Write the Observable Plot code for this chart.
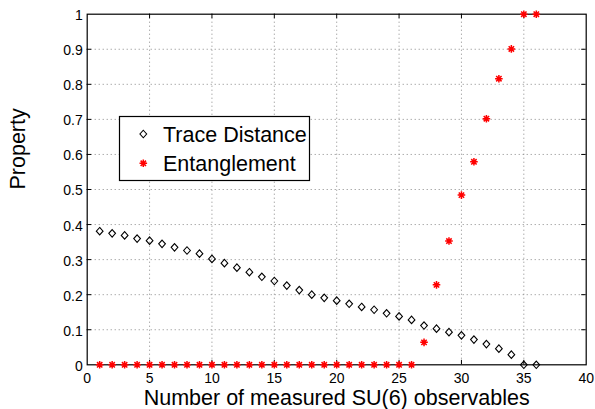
<!DOCTYPE html>
<html><head><meta charset="utf-8">
<script src="https://cdn.jsdelivr.net/npm/d3@7"></script>
<script src="https://cdn.jsdelivr.net/npm/@observablehq/plot@0.6"></script>
<style>
body{margin:0;background:#fff}
#chart{width:595px;height:409px}
</style>
</head><body><div id="chart"></div>
<script>
const observables = [1,2,3,4,5,6,7,8,9,10,11,12,13,14,15,16,17,18,19,20,21,22,23,24,25,26,27,28,29,30,31,32,33,34,35,36];
const traceDistance = [0.381,0.375,0.369,0.360,0.354,0.345,0.335,0.326,0.317,0.302,0.290,0.277,0.264,0.251,0.239,0.226,0.213,0.200,0.191,0.183,0.174,0.165,0.157,0.147,0.138,0.128,0.112,0.103,0.093,0.084,0.072,0.059,0.046,0.029,0,0];
const entanglement = [0,0,0,0,0,0,0,0,0,0,0,0,0,0,0,0,0,0,0,0,0,0,0,0,0,0,0.064,0.228,0.353,0.484,0.579,0.702,0.816,0.901,1,1];
const xTicks = [0,5,10,15,20,25,30,35,40];
const yTicks = [0,0.1,0.2,0.3,0.4,0.5,0.6,0.7,0.8,0.9,1];
const yTickLabels = ["0","0.1","0.2","0.3","0.4","0.5","0.6","0.7","0.8","0.9","1"];
const seriesNames = ["Trace Distance","Entanglement"];
const xLabel = "Number of measured SU(6) observables";
const yLabel = "Property";

const rows = observables.map((x, i) => ({x, td: traceDistance[i], ent: entanglement[i]}));

const FONT = "'Liberation Sans', Arial, Helvetica, sans-serif";

const diamondSym = {draw(ctx, size) {
  const r = Math.sqrt(size / Math.PI);
  const w = r * 1.12, h = r * 1.25;
  ctx.moveTo(0, -h); ctx.lineTo(w, 0); ctx.lineTo(0, h); ctx.lineTo(-w, 0); ctx.closePath();
}};
const starSym = {draw(ctx, size) {
  const r = Math.sqrt(size / Math.PI);
  const d = r * 0.7071;
  ctx.moveTo(-r, 0); ctx.lineTo(r, 0);
  ctx.moveTo(0, -r); ctx.lineTo(0, r);
  ctx.moveTo(-d, -d); ctx.lineTo(d, d);
  ctx.moveTo(-d, d); ctx.lineTo(d, -d);
}};

const inner = xTicks.slice(1, -1);
const innerY = yTicks.slice(1, -1);
const tickLenY = 0.0128, tickLenX = 0.36;

const plot = Plot.plot({
  width: 595, height: 409,
  marginLeft: 86.7, marginRight: 9.3, marginTop: 13.7, marginBottom: 44.7,
  style: {fontFamily: FONT, background: "white", color: "black", overflow: "visible"},
  x: {domain: [0, 40]},
  y: {domain: [0, 1]},
  marks: [
    Plot.gridX(inner, {stroke: "#888", strokeOpacity: 1, strokeDasharray: "1,3"}),
    Plot.gridY(innerY, {stroke: "#888", strokeOpacity: 1, strokeDasharray: "1,3"}),
    Plot.ruleX(inner, {x: d => d, y1: 0, y2: tickLenY, stroke: "black"}),
    Plot.ruleX(inner, {x: d => d, y1: 1 - tickLenY, y2: 1, stroke: "black"}),
    Plot.ruleY(innerY, {y: d => d, x1: 0, x2: tickLenX, stroke: "black"}),
    Plot.ruleY(innerY, {y: d => d, x1: 40 - tickLenX, x2: 40, stroke: "black"}),
    Plot.frame({stroke: "black", strokeWidth: 1.2}),
    Plot.axisX(xTicks, {anchor: "bottom", tickSize: 0, tickPadding: 8, fontSize: 14, tickFormat: d => String(d), label: null}),
    Plot.axisY(yTicks, {anchor: "left", tickSize: 0, tickPadding: 4.5, fontSize: 14, dy: 1.5, tickFormat: d => yTickLabels[yTicks.indexOf(d)], label: null}),
    Plot.text([xLabel], {frameAnchor: "bottom", lineAnchor: "bottom", dy: 39.7, fontSize: 21.5, text: d => d, fill: "black"}),
    Plot.text([yLabel], {frameAnchor: "left", lineAnchor: "bottom", rotate: -90, dx: -61.7, fontSize: 21.5, text: d => d, fill: "black"}),
    Plot.dot(rows, {x: "x", y: "td", symbol: diamondSym, r: 3, stroke: "black", fill: "none", strokeWidth: 1.1}),
    Plot.dot(rows, {x: "x", y: "ent", symbol: starSym, r: 3.8, stroke: "#ff0000", fill: "none", strokeWidth: 1.5})
  ]
});

// legend
const svg = d3.select(plot);
const lg = svg.append("g").attr("font-family", FONT).attr("text-anchor", "start");
lg.append("rect").attr("x", 119.5).attr("y", 116.5).attr("width", 190).attr("height", 64)
  .attr("fill", "white").attr("stroke", "black").attr("stroke-width", 1.2);
lg.append("path").attr("d", d3.symbol(diamondSym, Math.PI * 9)()).attr("transform", "translate(143.3,134)")
  .attr("fill", "none").attr("stroke", "black").attr("stroke-width", 1.1);
lg.append("path").attr("d", d3.symbol(starSym, Math.PI * 3.8 * 3.8)()).attr("transform", "translate(143.3,163.3)")
  .attr("fill", "none").attr("stroke", "#ff0000").attr("stroke-width", 1.5);
lg.append("text").attr("x", 163).attr("y", 141.7).attr("font-size", 21.5).attr("fill", "black").attr("text-anchor", "start").text(seriesNames[0]);
lg.append("text").attr("x", 163).attr("y", 171).attr("font-size", 21.5).attr("fill", "black").attr("text-anchor", "start").text(seriesNames[1]);

document.getElementById("chart").appendChild(plot);
</script>
</body></html>
